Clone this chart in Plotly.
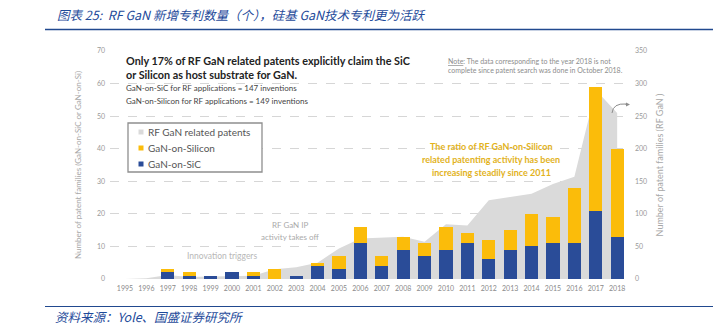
import plotly.graph_objects as go

# Years on the category axis
years = [str(y) for y in range(1995, 2019)]

# New RF GaN patent families per year (right axis)
rf_gan_related = [0, 1, 6, 3, 4, 5, 5, 15, 18, 25, 47, 62, 64, 65, 57, 84, 82,
                  121, 126, 131, 146, 157, 290, 255]

# GaN-on-SiC and GaN-on-Silicon patent families per year (left axis)
gan_on_sic = [0, 0, 2, 1, 1, 2, 1, 0, 1, 4, 3, 11, 4, 9, 7, 9, 11, 6, 9, 10,
              11, 11, 21, 13]
gan_on_si = [0, 0, 1, 1, 0, 0, 1, 3, 0, 1, 4, 5, 3, 4, 4, 7, 3, 6, 6, 10, 8,
             17, 38, 27]

left_ticks = [0, 10, 20, 30, 40, 50, 60, 70]
right_ticks = [0, 50, 100, 150, 200, 250, 300, 350]

NAVY = "#2a4c98"
GOLD = "#fbbc0a"
GREY_AREA = "#dadada"
TEXT_BLUE = "#1e4a9a"
RULE_BLUE = "#21498f"
FONT = "Lato, 'Open Sans', sans-serif"
CJK = "'Noto Sans CJK SC', sans-serif"

W, H = 724, 334
L, R, T, B = 110, 94, 51, 55
PW, PH = W - L - R, H - T - B


def px(x):
    return (x - L) / PW


def py(y):
    return (H - B - y) / PH


fig = go.Figure()

# Grey area: all RF GaN related patents (drawn first so it sits behind bars)
fig.add_trace(go.Scatter(
    x=years, y=rf_gan_related, name="RF GaN related patents",
    mode="lines", line=dict(width=0, color=GREY_AREA),
    fill="tozeroy", fillcolor=GREY_AREA, yaxis="y", showlegend=False,
    hoverinfo="x+y"))

# Stacked bars: GaN-on-SiC at the bottom, GaN-on-Silicon on top
fig.add_trace(go.Bar(x=years, y=gan_on_sic, name="GaN-on-SiC",
                     marker=dict(color=NAVY, line=dict(width=0)),
                     yaxis="y2", width=0.62, showlegend=False))
fig.add_trace(go.Bar(x=years, y=gan_on_si, name="GaN-on-Silicon",
                     marker=dict(color=GOLD, line=dict(width=0)),
                     yaxis="y2", width=0.62, showlegend=False))

fig.update_layout(
    width=W, height=H,
    margin=dict(l=L, r=R, t=T, b=B, pad=0),
    paper_bgcolor="white", plot_bgcolor="white",
    barmode="stack",
    font=dict(family=FONT, color="#999999", size=7),
    xaxis=dict(type="category", range=[-0.7, 23.6], showgrid=False,
               zeroline=False, showline=False, ticks="",
               tickfont=dict(size=7, color="#8a8a8a"), ticklabelstandoff=4),
    yaxis=dict(side="right", range=[0, 350], tickvals=right_ticks,
               showgrid=True, gridcolor="#d6d6d6", griddash="dash",
               gridwidth=0.8, zeroline=False, showline=False, ticks="",
               tickfont=dict(size=7, color="#9a9a9a"), ticklabelstandoff=4,
               title=dict(text="Number of patent families (RF GaN )",
                          font=dict(size=9, color="#a8a8a8"), standoff=10)),
    yaxis2=dict(overlaying="y", side="left", range=[0, 70],
                tickvals=left_ticks, showgrid=False, zeroline=False,
                showline=False, ticks="",
                tickfont=dict(size=7, color="#9a9a9a"), ticklabelstandoff=4,
                title=dict(text="Number of patent families (GaN-on-SiC or GaN-on-Si)",
                           font=dict(size=8, color="#a8a8a8"), standoff=14)),
    showlegend=False,
)

shapes = []
annos = []

# Header title and rules
annos.append(dict(x=px(55), y=py(15), xref="paper", yref="paper",
                  xanchor="left", yanchor="middle", showarrow=False,
                  text="<i>图表 25:  RF GaN 新增专利数量（个），硅基 GaN技术专利更为活跃</i>",
                  font=dict(family=CJK, size=12.5, color=TEXT_BLUE)))
shapes.append(dict(type="line", xref="paper", yref="paper",
                   x0=px(45), x1=px(713), y0=py(29.5), y1=py(29.5),
                   line=dict(color=RULE_BLUE, width=1.5)))
shapes.append(dict(type="line", xref="paper", yref="paper",
                   x0=px(45), x1=px(713), y0=py(306.5), y1=py(306.5),
                   line=dict(color=RULE_BLUE, width=1.2)))
annos.append(dict(x=px(53), y=py(316), xref="paper", yref="paper",
                  xanchor="left", yanchor="middle", showarrow=False,
                  text="<i>资料来源：Yole、国盛证券研究所</i>",
                  font=dict(family=CJK, size=12.5, color=TEXT_BLUE)))

# Headline statement
annos.append(dict(x=px(124), y=py(60), xref="paper", yref="paper",
                  xanchor="left", yanchor="middle", showarrow=False,
                  text="<b>Only 17% of RF GaN related patents explicitly claim the SiC</b>",
                  font=dict(size=10.8, color="#222222")))
annos.append(dict(x=px(124), y=py(74), xref="paper", yref="paper",
                  xanchor="left", yanchor="middle", showarrow=False,
                  text="<b>or Silicon as host substrate for GaN.</b>",
                  font=dict(size=10.8, color="#222222")))
annos.append(dict(x=px(124), y=py(88), xref="paper", yref="paper",
                  xanchor="left", yanchor="middle", showarrow=False,
                  text=f"GaN-on-SiC for RF applications = {sum(gan_on_sic)} inventions",
                  font=dict(size=8, color="#444444")))
annos.append(dict(x=px(124), y=py(101), xref="paper", yref="paper",
                  xanchor="left", yanchor="middle", showarrow=False,
                  text=f"GaN-on-Silicon for RF applications = {sum(gan_on_si)} inventions",
                  font=dict(size=8, color="#444444")))

# Note on incomplete 2018 data
annos.append(dict(x=px(446), y=py(61), xref="paper", yref="paper",
                  xanchor="left", yanchor="middle", showarrow=False,
                  text="<u>Note</u>: The data corresponding to the year 2018 is not",
                  font=dict(size=7, color="#8c8c8c")))
annos.append(dict(x=px(446), y=py(70), xref="paper", yref="paper",
                  xanchor="left", yanchor="middle", showarrow=False,
                  text="complete since patent search was done in October 2018.",
                  font=dict(size=7, color="#8c8c8c")))

# Trend callout
for i, line in enumerate(["The ratio of RF GaN-on-Silicon",
                          "related patenting activity has been",
                          "increasing steadily since 2011"]):
    annos.append(dict(x=px(491), y=py(146.5 + 12.8 * i), xref="paper", yref="paper",
                      xanchor="center", yanchor="middle", showarrow=False,
                      text=f"<b>{line}</b>",
                      font=dict(size=9, color="#e2b21c")))

# Phase labels
annos.append(dict(x=px(290), y=py(225), xref="paper", yref="paper",
                  xanchor="center", yanchor="middle", showarrow=False,
                  text="RF GaN IP", font=dict(size=8, color="#aaaaaa")))
annos.append(dict(x=px(290), y=py(237), xref="paper", yref="paper",
                  xanchor="center", yanchor="middle", showarrow=False,
                  text="activity takes off", font=dict(size=8, color="#aaaaaa")))
annos.append(dict(x=px(222), y=py(256), xref="paper", yref="paper",
                  xanchor="center", yanchor="middle", showarrow=False,
                  text="Innovation triggers", font=dict(size=8.5, color="#b8b8b8")))

# Curved pointer towards the right axis
shapes.append(dict(type="path", xref="paper", yref="paper",
                   path=f"M {px(612)},{py(113)} Q {px(613)},{py(103)} {px(626)},{py(104)}",
                   line=dict(color="#8c8c8c", width=1)))
annos.append(dict(x=px(630), y=py(104.5), xref="paper", yref="paper",
                  ax=-6, ay=0, showarrow=True, arrowhead=2, arrowsize=0.8,
                  arrowwidth=1, arrowcolor="#8c8c8c", text=""))

# Legend box
shapes.append(dict(type="rect", xref="paper", yref="paper",
                   x0=px(128), x1=px(262), y0=py(172), y1=py(123),
                   line=dict(color="#8f8f8f", width=1.3), fillcolor="white"))
legend_items = [("RF GaN related patents", GREY_AREA),
                ("GaN-on-Silicon", GOLD),
                ("GaN-on-SiC", NAVY)]
for i, (label, col) in enumerate(legend_items):
    yc = 132 + 16 * i
    shapes.append(dict(type="rect", xref="paper", yref="paper",
                       x0=px(138.5), x1=px(143.5), y0=py(yc + 2.5), y1=py(yc - 2.5),
                       line=dict(width=0), fillcolor=col))
    annos.append(dict(x=px(146), y=py(yc), xref="paper", yref="paper",
                      xanchor="left", yanchor="middle", showarrow=False,
                      text=label, font=dict(size=10, color="#555555")))

fig.update_layout(shapes=shapes, annotations=annos)
fig.write_html("out.html")
